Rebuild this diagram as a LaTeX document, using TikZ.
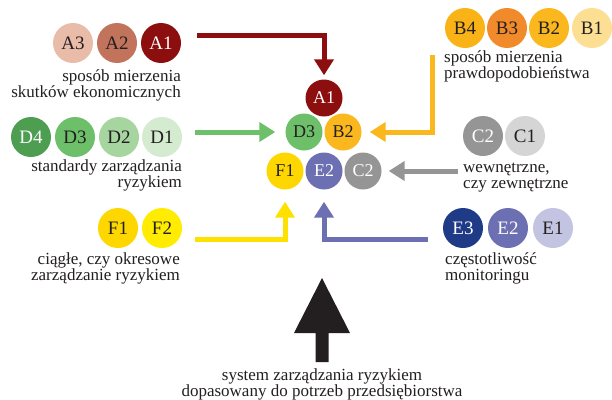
\documentclass[tikz,border=0pt]{standalone}
\usepackage{fontspec}
\setmainfont{Liberation Serif}
\usetikzlibrary{arrows.meta}
\definecolor{txt}{HTML}{231F20}
\definecolor{cA1}{HTML}{8C0E0E}
\definecolor{cA2}{HTML}{C1735C}
\definecolor{cA3}{HTML}{E9BCAA}
\definecolor{cB4}{HTML}{F9B317}
\definecolor{cB3}{HTML}{F18A2B}
\definecolor{cB2}{HTML}{FBB81E}
\definecolor{cB1}{HTML}{FDDF94}
\definecolor{cD4}{HTML}{4E9E52}
\definecolor{cD3}{HTML}{6DBF6A}
\definecolor{cD2}{HTML}{A6D59F}
\definecolor{cD1}{HTML}{D4EBCF}
\definecolor{cC2}{HTML}{959595}
\definecolor{cC1}{HTML}{D5D5D5}
\definecolor{cF1}{HTML}{FED700}
\definecolor{cF2}{HTML}{FFEC00}
\definecolor{cFa}{HTML}{FFE100}
\definecolor{cE3}{HTML}{1F3B88}
\definecolor{cE2}{HTML}{6C70B2}
\definecolor{cE1}{HTML}{C2C4E1}
\begin{document}
\begin{tikzpicture}[x=1pt,y=-1pt,
  ball/.style={circle, minimum size=40pt, inner sep=0pt, text=txt,
    font=\fontsize{19}{19}\selectfont},
  cball/.style={ball, minimum size=37pt, font=\fontsize{18}{18}\selectfont},
  wt/.style={text=white},
  lbl/.style={font=\fontsize{17}{16}\selectfont, inner sep=0pt, text=txt},
  lblr/.style={lbl, align=right},
  lbll/.style={lbl, align=left},
  lblc/.style={lbl, align=center},
  flow/.style={line width=5pt, -{Triangle[width=19pt,length=16pt]}}
]
\useasboundingbox[fill=white] (0,0) rectangle (612,399);

% group A
\node[ball, fill=cA3] (a3) at (73,43) {A3};
\node[ball, fill=cA2] (a2) at (117,43) {A2};
\node[ball, fill=cA1, wt] (a1) at (161,43) {A1};
\node[lblr, anchor=base east] (ta) at (181,97) {sposób mierzenia\\skutków ekonomicznych};

% group B
\node[ball, fill=cB4] (b4) at (465,28) {B4};
\node[ball, fill=cB3] (b3) at (507,28) {B3};
\node[ball, fill=cB2] (b2) at (549,28) {B2};
\node[ball, fill=cB1] (b1) at (592,28) {B1};
\node[lbll, anchor=base west] (tb) at (444,78) {sposób mierzenia\\prawdopodobieństwa};

% group D
\node[ball, fill=cD4, wt] (d4) at (31,137) {D4};
\node[ball, fill=cD3] (d3) at (75,137) {D3};
\node[ball, fill=cD2] (d2) at (119,137) {D2};
\node[ball, fill=cD1] (d1) at (162,137) {D1};
\node[lblr, anchor=base east] (td) at (182,187) {standardy zarządzania\\ryzykiem};

% group C
\node[ball, fill=cC2, wt] (c2) at (483,136) {C2};
\node[ball, fill=cC1] (c1) at (525,136) {C1};
\node[lbll, anchor=base west] (tc) at (463,188) {wewnętrzne,\\czy zewnętrzne};

% group F
\node[ball, fill=cF1] (f1) at (118,228) {F1};
\node[ball, fill=cF2] (f2) at (162,228) {F2};
\node[lblr, anchor=base east] (tf) at (180,280) {ciągłe, czy okresowe\\zarządzanie ryzykiem};

% group E
\node[ball, fill=cE3, wt] (e3) at (463,228) {E3};
\node[ball, fill=cE2, wt] (e2) at (508,228) {E2};
\node[ball, fill=cE1] (e1) at (553,228) {E1};
\node[lbll, anchor=base west] (te) at (445,280) {częstotliwość\\monitoringu};

% centre cluster
\node[cball, fill=cA1, wt] (mA1) at (324,98) {A1};
\node[cball, fill=cD3] (mD3) at (304,132) {D3};
\node[cball, fill=cB2] (mB2) at (343,132) {B2};
\node[cball, fill=cF1] (mF1) at (285,171) {F1};
\node[cball, fill=cE2, wt] (mE2) at (324,171) {E2};
\node[cball, fill=cC2, wt] (mC2) at (363,171) {C2};

% connectors
\coordinate (sa) at (197,35);
\coordinate (sb) at (432,55);
\coordinate (sd) at (195,132);
\coordinate (sc) at (458,171);
\coordinate (sf) at (195,239);
\coordinate (se) at (428,239);
\draw[flow, cA1, shorten >=4pt] (sa) -| (mA1.north);
\draw[flow, cB2, shorten >=8pt] (sb) |- (mB2.east);
\draw[flow, cD3, shorten >=10pt] (sd) -- (mD3.west);
\draw[flow, cC2, shorten >=7pt] (sc) -- (mC2.east);
\draw[flow, cFa, shorten >=12pt] (sf) -| (mF1.south);
\draw[flow, cE2, shorten >=12pt] (se) -| (mE2.south);

% big arrow
\fill[txt] (322,278) -- (350,333) -- (328.5,333) -- (328.5,362) -- (315.5,362) -- (315.5,333) -- (294,333) -- cycle;
\node[lblc, anchor=base] (tg) at (322,396) {system zarządzania ryzykiem\\dopasowany do potrzeb przedsiębiorstwa};
\end{tikzpicture}
\end{document}
